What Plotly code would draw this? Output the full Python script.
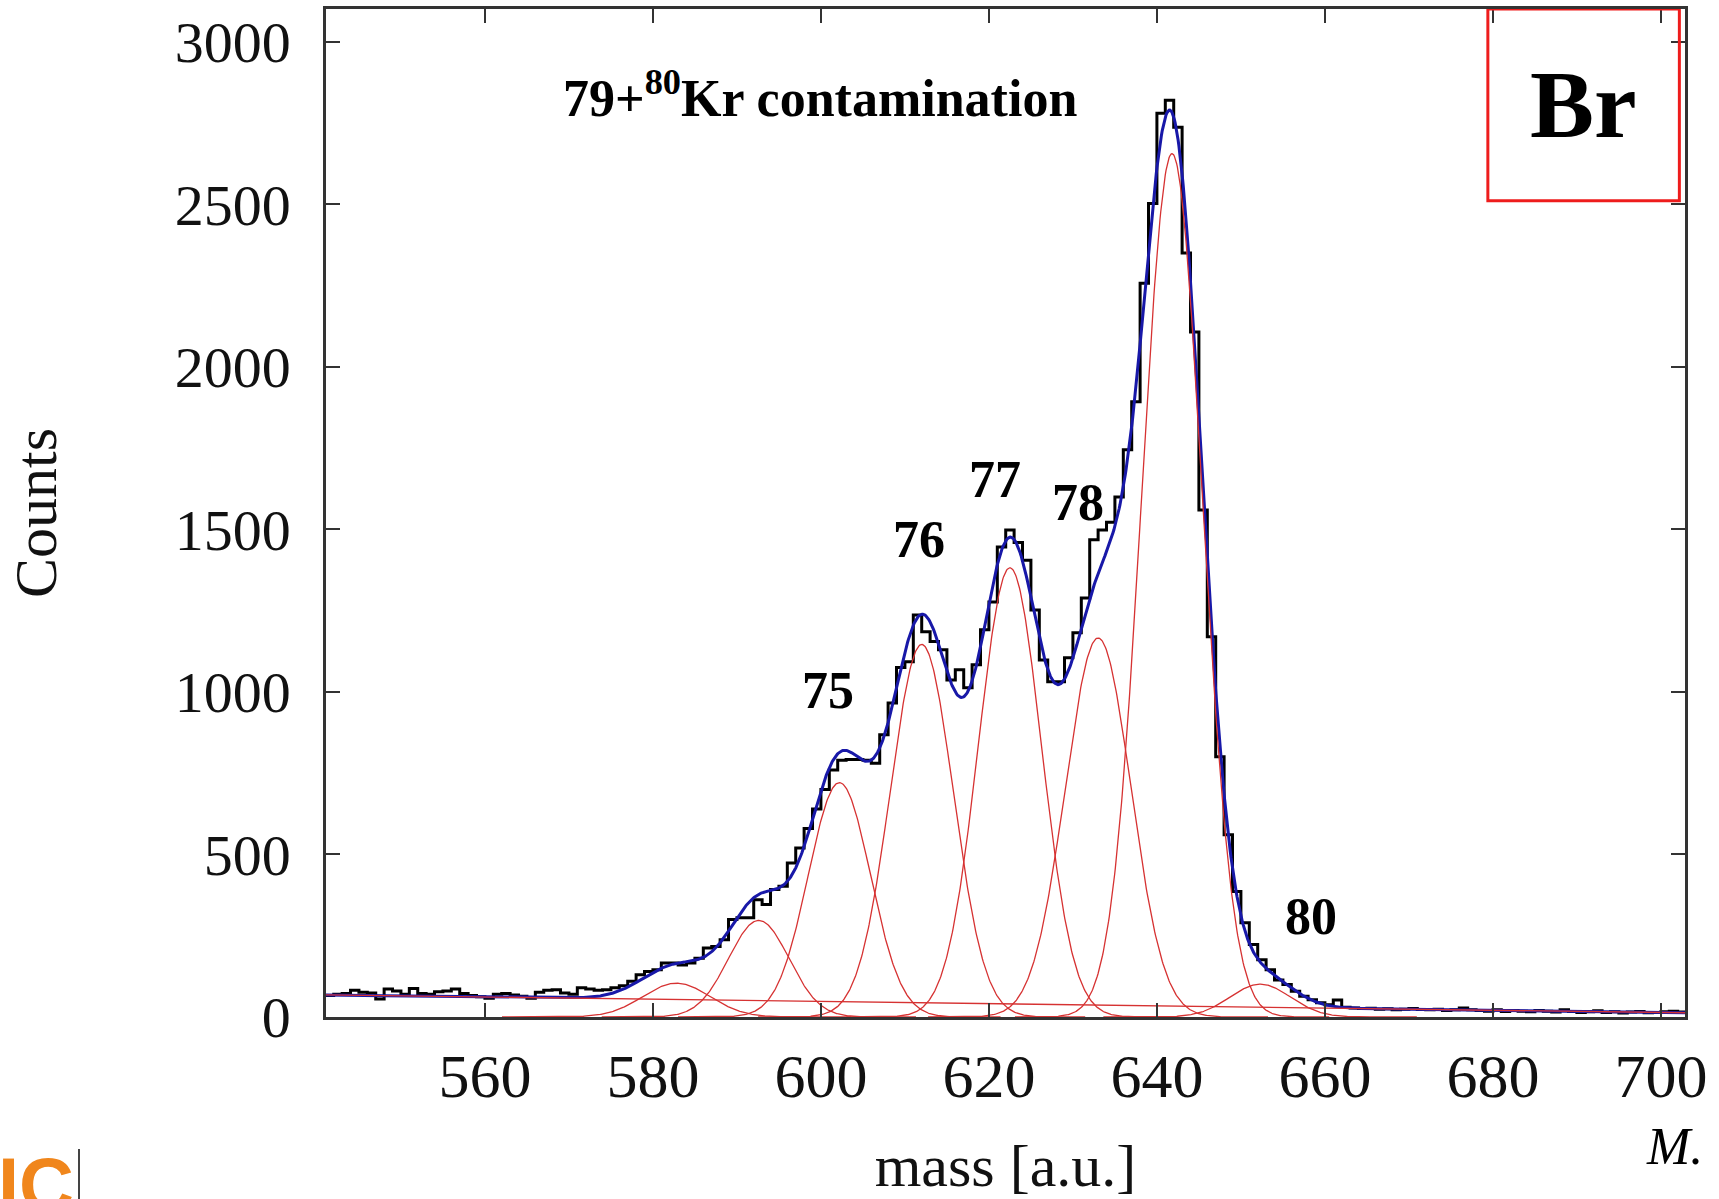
import numpy as np
import plotly.graph_objects as go

# ---- measured spectrum: counts per 1-unit mass bin, first bin starts at 541 ----
bin_start = 541
counts = [
    66, 70, 72, 82, 76, 74, 55, 86, 80, 70,          # 541-550
    88, 72, 70, 78, 80, 86, 72, 66, 62, 58,          # 551-560
    70, 72, 68, 64, 58, 76, 82, 84, 74, 70,          # 561-570
    90, 86, 82, 84, 90, 96, 110, 130, 140, 145,      # 571-580
    166, 166, 160, 166, 181, 212, 217, 238, 300, 305,  # 581-590
    305, 361, 346, 392, 402, 474, 520, 580, 640, 700,  # 591-600
    760, 790, 792, 792, 790, 781, 868, 966, 1075, 1093,  # 601-610
    1237, 1185, 1155, 1130, 1037, 1068, 1013, 1084, 1191, 1277,  # 611-620
    1446, 1498, 1460, 1405, 1252, 1098, 1031, 1031, 1105, 1182,  # 621-630
    1289, 1468, 1498, 1522, 1600, 1745, 1893, 2257, 2503, 2780,  # 631-640
    2820, 2737, 2350, 2107, 1560, 1170, 801, 561, 386, 290,  # 641-650
    223, 176, 145, 114, 100, 79, 64, 53, 44, 38,     # 651-660
    52, 30, 28, 26, 27, 24, 25, 22, 24, 26,          # 661-670
    23, 22, 24, 20, 22, 28, 22, 20, 18, 22,          # 671-680
    17, 20, 18, 16, 20, 18, 15, 22, 17, 14,          # 681-690
    16, 19, 14, 16, 12, 15, 17, 13, 14, 16,          # 691-700
    18, 15,                                          # 701-702
]

# ---- multi-Gaussian fit: one component per mass peak, plus linear background ----
fit_center = [582.8, 592.6, 602.2, 612.0, 622.5, 633.0, 641.8, 652.3]
fit_amplitude = [104, 297, 721, 1146, 1382, 1166, 2656, 101]
fit_sigma = [4.0, 3.6, 3.7, 3.75, 3.75, 3.9, 3.6, 3.6]
bg_offset = 68.0      # background level at mass 541
bg_slope = -0.34      # counts per mass unit

# ---- peak annotations ----
peak_labels = ["75", "76", "77", "78", "80"]
peak_label_x = [600.8, 611.7, 620.7, 630.6, 658.4]
peak_label_y = [1004, 1469, 1655, 1584, 310]

x_min, x_max = 541.08, 702.87
y_max = 3101
x_ticks = [560, 580, 600, 620, 640, 660, 680, 700]
y_ticks = [0, 500, 1000, 1500, 2000, 2500, 3000]

SERIF = "Liberation Serif, Times New Roman, serif"
AXIS_COLOR = "#333333"
FIT_RED = "#d63232"
FIT_BLUE = "#1818a8"

W, H = 1719, 1199
ML, MR, MT, MB = 326, 34, 9, 182

edges = bin_start + np.arange(len(counts) + 1)
hist_y = counts + [counts[-1]]

xf = np.linspace(x_min, x_max, 1800)
background = bg_offset + bg_slope * (xf - 541.0)
components = [a * np.exp(-0.5 * ((xf - c) / s) ** 2)
              for c, a, s in zip(fit_center, fit_amplitude, fit_sigma)]
total_fit = background + np.sum(components, axis=0)

fig = go.Figure()

# data histogram
fig.add_trace(go.Scatter(
    x=edges, y=hist_y, mode="lines", line_shape="hv",
    line=dict(color="black", width=3), hoverinfo="skip"))

# total fit
fig.add_trace(go.Scatter(
    x=xf, y=total_fit, mode="lines",
    line=dict(color=FIT_BLUE, width=3), hoverinfo="skip"))

# individual components
for c, s, comp in zip(fit_center, fit_sigma, components):
    m = np.abs(xf - c) < 5.2 * s
    fig.add_trace(go.Scatter(
        x=xf[m], y=comp[m], mode="lines",
        line=dict(color=FIT_RED, width=1.3), hoverinfo="skip"))

# background
fig.add_trace(go.Scatter(
    x=xf, y=background, mode="lines",
    line=dict(color=FIT_RED, width=1.4), hoverinfo="skip"))

annotations = []
for t, lx, ly in zip(peak_labels, peak_label_x, peak_label_y):
    annotations.append(dict(
        x=lx, y=ly, xref="x", yref="y", text=t, showarrow=False,
        xanchor="center", yanchor="middle",
        font=dict(family=SERIF, size=52, color="black", weight="bold")))

annotations.append(dict(
    x=569.1, y=2838, xref="x", yref="y",
    text="79+<sup>80</sup>Kr contamination", showarrow=False,
    xanchor="left", yanchor="middle",
    font=dict(family=SERIF, size=52, color="black", weight="bold")))

annotations.append(dict(
    x=690.8, y=2806, xref="x", yref="y", text="Br", showarrow=False,
    xanchor="center", yanchor="middle",
    font=dict(family=SERIF, size=96, color="black", weight="bold")))


def paper_xy(px, py):
    """Pixel position on the page -> paper coordinates of the plot area."""
    return ((px - ML) / (W - ML - MR), (H - MB - py) / (H - MT - MB))


mx, my = paper_xy(1644, 1146)
annotations.append(dict(
    x=mx, y=my, xref="paper", yref="paper", text="<i>M.</i>",
    showarrow=False, xanchor="left", yanchor="middle",
    font=dict(family=SERIF, size=52, color="black")))

# institute logo fragment in the lower-left corner
lx, ly = paper_xy(-4, 1140)
annotations.append(dict(
    x=lx, y=ly, xref="paper", yref="paper", text="<b>IC</b>",
    showarrow=False, xanchor="left", yanchor="top",
    font=dict(family="Liberation Sans, Arial, sans-serif", size=76,
              color="#f0861c")))

bx0, by0 = paper_xy(79, 1149)
bx1, by1 = paper_xy(79, 1199)

fig.update_layout(
    width=W, height=H,
    margin=dict(l=ML, r=MR, t=MT, b=MB),
    paper_bgcolor="white", plot_bgcolor="white",
    showlegend=False,
    annotations=annotations,
    shapes=[
        dict(type="rect", xref="x", yref="y",
             x0=679.4, x1=702.2, y0=2511, y1=3101,
             line=dict(color="#ee1c1c", width=3)),
        dict(type="line", xref="paper", yref="paper",
             x0=bx0, x1=bx1, y0=by0, y1=by1,
             line=dict(color="#444444", width=2)),
    ],
)

fig.update_xaxes(
    range=[x_min, x_max], tickvals=x_ticks, automargin=False,
    ticks="inside", ticklen=14, tickwidth=2, tickcolor=AXIS_COLOR,
    showline=True, linewidth=2.5, linecolor=AXIS_COLOR, mirror="ticks",
    showgrid=False, zeroline=False,
    tickfont=dict(family=SERIF, size=62, color="#111111"),
    ticklabelstandoff=3,
    title=dict(text="mass [a.u.]", standoff=76,
               font=dict(family=SERIF, size=60, color="#111111")),
)
fig.update_yaxes(
    range=[0, y_max], tickvals=y_ticks, automargin=False,
    ticks="inside", ticklen=14, tickwidth=2, tickcolor=AXIS_COLOR,
    showline=True, linewidth=2.5, linecolor=AXIS_COLOR, mirror="ticks",
    showgrid=False, zeroline=False,
    tickfont=dict(family=SERIF, size=58, color="#111111"),
    ticklabelstandoff=21,
    title=dict(text="Counts", standoff=99,
               font=dict(family=SERIF, size=60, color="#111111")),
)

fig.write_html("out.html")
